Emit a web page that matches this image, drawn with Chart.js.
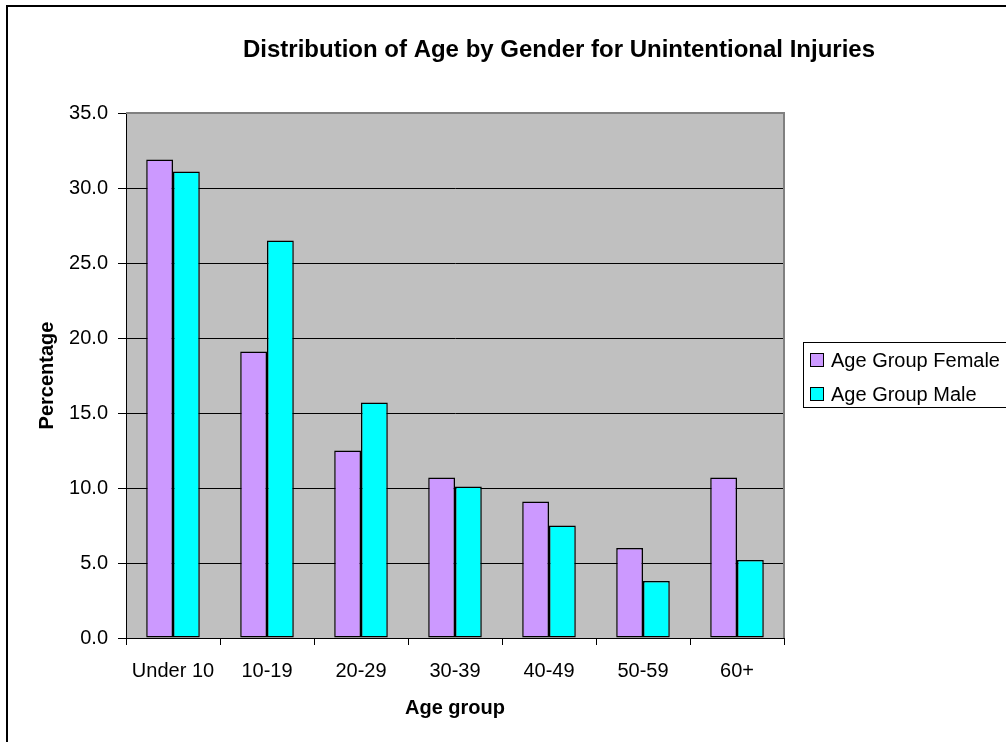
<!DOCTYPE html>
<html>
<head>
<meta charset="utf-8">
<script src="https://cdn.jsdelivr.net/npm/chart.js@4/dist/chart.umd.min.js"></script>
<style>
  html, body { margin: 0; padding: 0; background: #fff; }
  #wrap { width: 1006px; height: 742px; position: relative; }
</style>
</head>
<body>
<div id="wrap"><canvas id="c" width="1006" height="742"></canvas></div>
<script>
// ---- data ----
const chartTitle = 'Distribution of Age by Gender for Unintentional Injuries';
const categories = ['Under 10', '10-19', '20-29', '30-39', '40-49', '50-59', '60+'];
const femaleLabel = 'Age Group Female';
const maleLabel = 'Age Group Male';
const femaleValues = [31.9, 19.1, 12.5, 10.7, 9.1, 6.0, 10.7];
const maleValues = [31.1, 26.5, 15.7, 10.1, 7.5, 3.8, 5.2];
const yMin = 0, yMax = 35, yStep = 5;
const xAxisTitle = 'Age group';
const yAxisTitle = 'Percentage';

const FONT = '"Liberation Sans", Arial, Helvetica, sans-serif';
const femaleColor = '#CC99FF';
const maleColor = '#00FFFF';

const decorPlugin = {
  id: 'decor',
  beforeDraw(chart) {
    const ctx = chart.ctx;
    const a = chart.chartArea;
    ctx.save();
    ctx.fillStyle = '#fff';
    ctx.fillRect(0, 0, chart.width, chart.height);
    ctx.fillStyle = '#C0C0C0';
    ctx.fillRect(a.left, a.top, a.right - a.left, a.bottom - a.top);
    ctx.restore();
  },
  afterDraw(chart) {
    const ctx = chart.ctx;
    const a = chart.chartArea;
    ctx.save();
    // plot area top/right border (gray)
    ctx.strokeStyle = '#808080';
    ctx.lineWidth = 2;
    ctx.beginPath();
    ctx.moveTo(a.left, a.top);
    ctx.lineTo(a.right, a.top);
    ctx.lineTo(a.right, a.bottom);
    ctx.stroke();
    // outer frame (left and top edges visible)
    ctx.strokeStyle = '#000';
    ctx.lineWidth = 2;
    ctx.beginPath();
    ctx.moveTo(7, chart.height);
    ctx.lineTo(7, 6);
    ctx.lineTo(chart.width, 6);
    ctx.stroke();
    // title
    ctx.fillStyle = '#000';
    ctx.font = 'bold 24px ' + FONT;
    ctx.textAlign = 'center';
    ctx.textBaseline = 'alphabetic';
    ctx.fillText(chartTitle, 559, 57);
    // legend
    ctx.lineWidth = 1;
    ctx.strokeStyle = '#000';
    ctx.strokeRect(803.5, 342.5, 240, 65);
    ctx.font = '20px ' + FONT;
    ctx.textAlign = 'left';
    chart.data.datasets.forEach((ds, i) => {
      const y = 353 + i * 34;
      ctx.fillStyle = ds.backgroundColor;
      ctx.fillRect(810.5, y + 0.5, 13, 13);
      ctx.strokeRect(810.5, y + 0.5, 13, 13);
      ctx.fillStyle = '#000';
      ctx.fillText(ds.label, 831, y + 14);
    });
    ctx.restore();
  }
};

new Chart(document.getElementById('c'), {
  type: 'bar',
  data: {
    labels: categories,
    datasets: [
      { label: femaleLabel, data: femaleValues, backgroundColor: femaleColor, borderColor: '#000', borderWidth: 1.5, borderSkipped: false },
      { label: maleLabel, data: maleValues, backgroundColor: maleColor, borderColor: '#000', borderWidth: 1.5, borderSkipped: false }
    ]
  },
  options: {
    responsive: false,
    devicePixelRatio: 1,
    animation: false,
    layout: { padding: { top: 113, left: 20, right: 222, bottom: 18 } },
    datasets: { bar: { categoryPercentage: 0.57, barPercentage: 1.0 } },
    plugins: {
      legend: { display: false },
      title: { display: false },
      tooltip: { enabled: false }
    },
    scales: {
      x: {
        afterFit(scale) { scale.height = 86; },
        grid: { display: true, drawOnChartArea: false, drawTicks: true, tickLength: 7, color: '#000', offset: true },
        border: { color: '#000', width: 1 },
        ticks: { color: '#000', font: { family: FONT, size: 20 }, padding: 14, maxRotation: 0, autoSkip: false },
        title: { display: true, text: xAxisTitle, color: '#000', font: { family: FONT, size: 20, weight: 'bold' }, padding: { top: 4, bottom: 4 } }
      },
      y: {
        min: yMin, max: yMax,
        afterFit(scale) { scale.width = 106; },
        grid: { color: '#000', lineWidth: 1, tickLength: 8, drawTicks: true },
        border: { color: '#000', width: 1 },
        ticks: { stepSize: yStep, color: '#000', font: { family: FONT, size: 20 }, padding: 10, callback: (v) => Number(v).toFixed(1) },
        title: { display: true, text: yAxisTitle, color: '#000', font: { family: FONT, size: 20, weight: 'bold' }, padding: { top: 15, bottom: 0 } }
      }
    }
  },
  plugins: [decorPlugin]
});
</script>
</body>
</html>
